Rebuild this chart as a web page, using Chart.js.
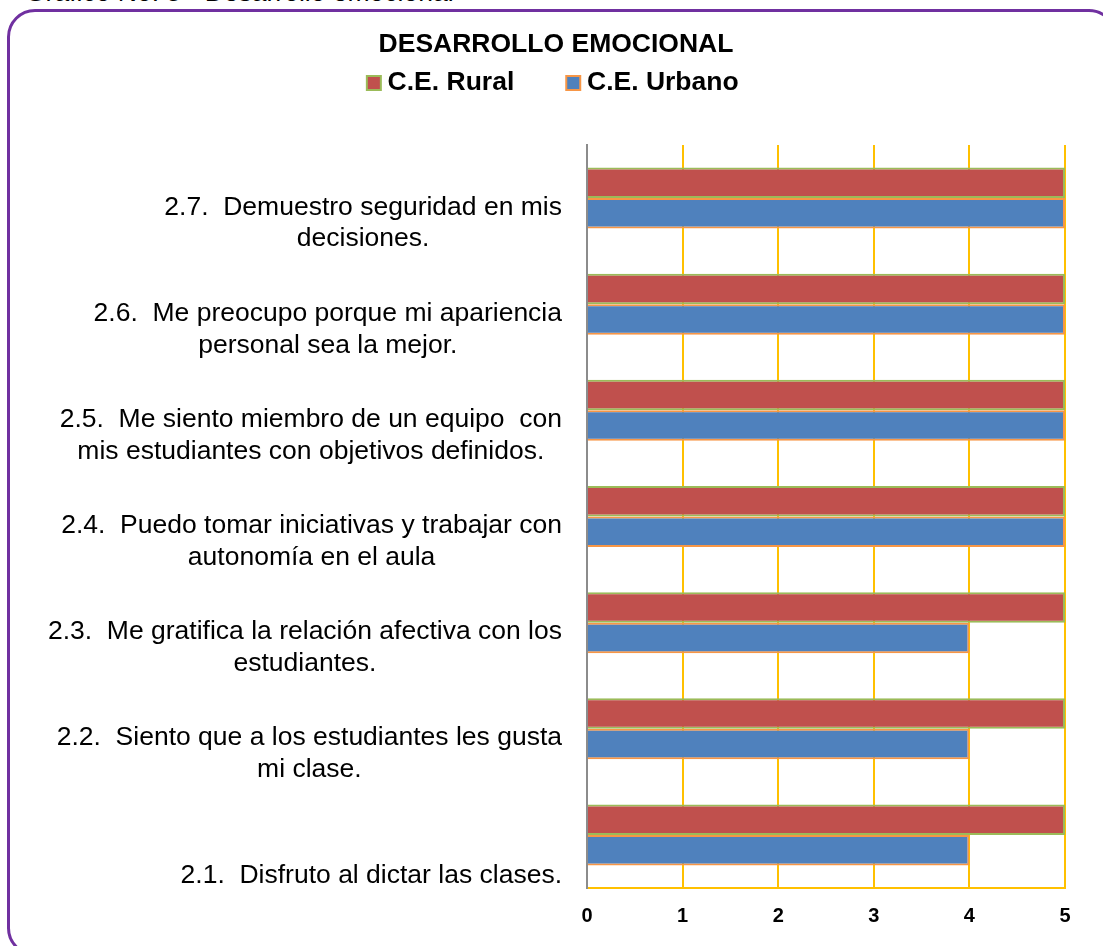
<!DOCTYPE html>
<html>
<head>
<meta charset="utf-8">
<script src="https://cdn.jsdelivr.net/npm/chart.js@4.4.0/dist/chart.umd.min.js"></script>
<style>
html,body{margin:0;padding:0;background:#fff;width:1103px;height:946px;overflow:hidden;position:relative;}
#caption{position:absolute;left:25px;top:-23px;font-family:'Liberation Sans',Arial,sans-serif;font-size:26.5px;line-height:30px;color:#000;white-space:pre;}
#frame{position:absolute;left:7px;top:9px;width:1110px;height:947px;border:3px solid #7030A0;border-radius:28px;box-sizing:border-box;}
#chart{position:absolute;left:0;top:0;}
</style>
</head>
<body>
<div id="caption">Gráfico No. 5 - Desarrollo emocional</div>
<div id="frame"></div>
<canvas id="chart" width="1103" height="946"></canvas>
<script>
// ---- data ----
const categories = [
  ['2.7.  Demuestro seguridad en mis', 'decisiones.'],
  ['2.6.  Me preocupo porque mi apariencia', 'personal sea la mejor.'],
  ['2.5.  Me siento miembro de un equipo  con', 'mis estudiantes con objetivos definidos.'],
  ['2.4.  Puedo tomar iniciativas y trabajar con', 'autonomía en el aula'],
  ['2.3.  Me gratifica la relación afectiva con los', 'estudiantes.'],
  ['2.2.  Siento que a los estudiantes les gusta', 'mi clase.'],
  ['2.1.  Disfruto al dictar las clases.']
];
const seriesNames = ['C.E. Rural', 'C.E. Urbano'];
const ruralValues = [5, 5, 5, 5, 5, 5, 5];
const urbanoValues = [5, 5, 5, 5, 4, 4, 4];
const xTickValues = [0, 1, 2, 3, 4, 5];
const chartTitle = 'DESARROLLO EMOCIONAL';

// ---- styling ----
const FONT = "'Liberation Sans', Arial, sans-serif";

const legendGap = {
  id: 'legendGap',
  beforeLayout(chart) {
    const lg = chart.legend;
    if (lg && !lg._gapPatched) {
      const fit = lg.fit;
      lg.fit = function () { fit.call(this); this.height += 38.75; };
      lg._gapPatched = true;
    }
  }
};

const yLabels = {
  id: 'yLabels',
  afterDraw(chart) {
    const ys = chart.scales.y;
    const ctx = chart.ctx;
    ctx.save();
    ctx.font = '26.5px ' + FONT;
    ctx.fillStyle = '#000';
    ctx.textAlign = 'center';
    ctx.textBaseline = 'middle';
    const right = chart.chartArea.left - 25;
    const lh = 31.8;
    categories.forEach((lines, i) => {
      const c = ys.getPixelForValue(i);
      const w = Math.max(...lines.map(l => ctx.measureText(l).width));
      const cx = right - w / 2;
      lines.forEach((l, j) => {
        ctx.fillText(l, cx, c + 41 - (lines.length - 1 - j) * lh);
      });
    });
    ctx.restore();
  }
};

new Chart(document.getElementById('chart'), {
  type: 'bar',
  data: {
    labels: categories,
    datasets: [
      {
        label: seriesNames[0],
        data: ruralValues,
        backgroundColor: '#C0504D',
        borderColor: '#9BBB59',
        borderWidth: 2,
        borderSkipped: 'start',
        categoryPercentage: 0.575,
        barPercentage: 1.0
      },
      {
        label: seriesNames[1],
        data: urbanoValues,
        backgroundColor: '#4F81BD',
        borderColor: '#F79646',
        borderWidth: 2,
        borderSkipped: 'start',
        categoryPercentage: 0.575,
        barPercentage: 1.0
      }
    ]
  },
  options: {
    indexAxis: 'y',
    responsive: false,
    animation: false,
    devicePixelRatio: 1,
    layout: { padding: { left: 47, right: 38, top: 0, bottom: 2 } },
    plugins: {
      title: {
        display: true,
        text: chartTitle,
        color: '#000',
        font: { family: FONT, size: 26.5, weight: 'bold', lineHeight: 1.2 },
        padding: { top: 29, bottom: -49.55 }
      },
      legend: {
        display: true,
        position: 'top',
        labels: {
          color: '#000',
          font: { family: FONT, size: 26.5, weight: 'bold' },
          usePointStyle: true,
          pointStyle: 'rect',
          boxWidth: 1,
          boxHeight: 14,
          padding: 58.5
        }
      },
      tooltip: { enabled: false }
    },
    scales: {
      x: {
        type: 'linear',
        position: 'bottom',
        min: 0,
        max: 5,
        afterBuildTicks(scale) { scale.ticks = xTickValues.map(v => ({ value: v })); },
        ticks: {
          color: '#000',
          font: { family: FONT, size: 20, weight: 'bold' },
          padding: 16
        },
        grid: {
          color: (c) => (c.tick && c.tick.value === 0 ? '#8C8C8C' : '#FFC000'),
          lineWidth: 2,
          drawTicks: false
        },
        border: { color: '#FFC000', width: 2 }
      },
      y: {
        type: 'category',
        ticks: { display: false },
        grid: { display: false, drawTicks: false },
        border: { color: '#8C8C8C', width: 2 },
        afterFit(scale) { scale.width = 540; }
      }
    }
  },
  plugins: [legendGap, yLabels]
});
</script>
</body>
</html>
